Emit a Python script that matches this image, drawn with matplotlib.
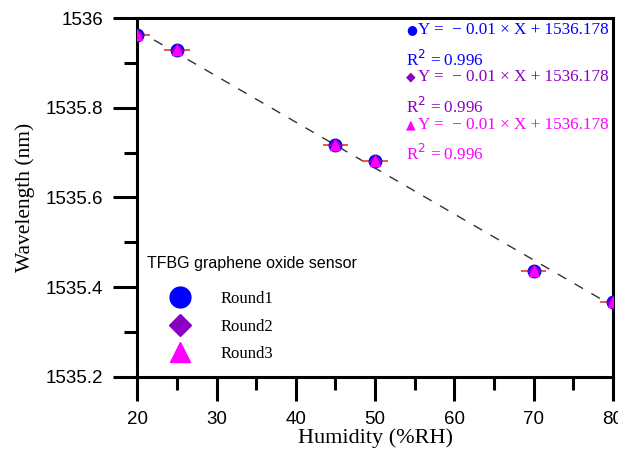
import matplotlib.pyplot as plt
import numpy as np
from matplotlib.lines import Line2D

# humidity points and measured wavelengths (three rounds overlap)
humidity = [20, 25, 45, 50, 70, 80]
round1 = [1535.962, 1535.928, 1535.718, 1535.682, 1535.437, 1535.368]
round2 = [1535.962, 1535.928, 1535.718, 1535.682, 1535.437, 1535.368]
round3 = [1535.962, 1535.928, 1535.718, 1535.682, 1535.437, 1535.368]
xerr = [1.6, 1.6, 1.6, 1.6, 1.6, 1.6]

fig = plt.figure(figsize=(6.18, 4.63), dpi=100)
ax = fig.add_axes([0.222, 0.186, 0.77, 0.775])

# linear fit line
coef = np.polyfit(humidity, round1, 1)
xs = np.array([humidity[0], humidity[-1]])
ax.plot(xs, np.polyval(coef, xs), ls=(0, (7, 7)), color='#333333', lw=1.0, zorder=1)

ax.errorbar(humidity, round1, xerr=xerr, fmt='none', ecolor='#e8584a', elinewidth=1.4, zorder=2)
ax.plot(humidity, round1, 'o', color='blue', ms=9, zorder=3)
ax.plot(humidity, round2, 'D', color='#8a00c0', ms=6, zorder=4)
ax.plot(humidity, round3, '^', color='magenta', ms=7, zorder=5)

ax.set_xlim(20, 80)
ax.set_ylim(1535.2, 1536)
ax.set_xticks([20, 30, 40, 50, 60, 70, 80])
ax.set_xticks([25, 35, 45, 55, 65, 75], minor=True)
ax.set_yticks([1535.2, 1535.4, 1535.6, 1535.8, 1536])
ax.set_yticks([1535.3, 1535.5, 1535.7, 1535.9], minor=True)
ax.set_yticklabels(['1535.2', '1535.4', '1535.6', '1535.8', '1536'])

for s in ax.spines.values():
    s.set_linewidth(2.2)
ax.tick_params(which='major', direction='out', length=17.5, width=2.2, labelsize=13.5, pad=7)
ax.tick_params(which='minor', direction='out', length=9.5, width=2.2)
for lab in ax.get_xticklabels() + ax.get_yticklabels():
    lab.set_family('Liberation Sans')

ax.set_xlabel('Humidity (%RH)', family='Liberation Serif', fontsize=16, labelpad=0)
ax.set_ylabel('Wavelength (nm)', family='Liberation Serif', fontsize=15.5, labelpad=8)

# fit equations
eq_colors = ['blue', '#8a00c0', 'magenta']
eq_marks = ['\u25cf', '\u25c6', '\u25b2']
for i in range(3):
    y0 = 0.967 - i * 0.132
    ax.text(0.565, y0, eq_marks[i], transform=ax.transAxes, color=eq_colors[i],
            fontsize=9, va='center', family='DejaVu Sans')
    ax.text(0.59, y0, 'Y =  \u2212 0.01 \u00d7 X + 1536.178', transform=ax.transAxes,
            color=eq_colors[i], fontsize=12.3, va='center', family='Liberation Serif')
    ax.text(0.565, y0 - 0.083, 'R$^2$ = 0.996', transform=ax.transAxes,
            color=eq_colors[i], fontsize=12.3, va='center', family='Liberation Serif')

ax.text(0.021, 0.315, 'TFBG graphene oxide sensor', transform=ax.transAxes,
        family='Liberation Sans', fontsize=11.5, va='center')
handles = [Line2D([], [], marker='o', color='blue', ls='none', ms=15),
           Line2D([], [], marker='D', color='#8a00c0', ls='none', ms=11),
           Line2D([], [], marker='^', color='magenta', ls='none', ms=15)]
leg = ax.legend(handles, ['Round1', 'Round2', 'Round3'], loc='lower left',
                bbox_to_anchor=(0.0, 0.0), frameon=False,
                prop={'family': 'Liberation Serif', 'size': 12}, handlelength=3.3,
                handletextpad=0.8, labelspacing=0.68, borderaxespad=0.5)

fig.savefig('out.png', dpi=100)
